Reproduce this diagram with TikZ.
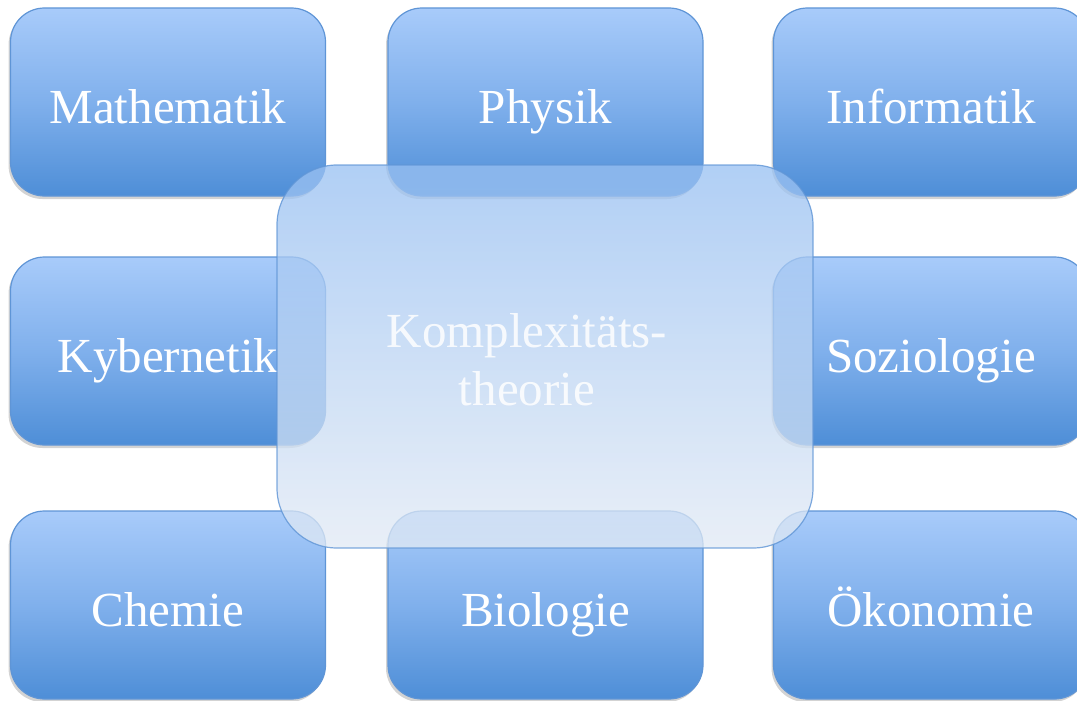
\documentclass[tikz,border=0pt]{standalone}
\usepackage{fontspec}
\setmainfont{Liberation Serif}
\usetikzlibrary{shadows}
\definecolor{boxtop}{HTML}{A8CBFA}
\definecolor{boxmid}{HTML}{80B0EC}
\definecolor{boxbottom}{HTML}{4E8ED7}
\definecolor{boxline}{HTML}{5F95D6}
\definecolor{glasstop}{HTML}{98C0F2}
\definecolor{glassbottom}{HTML}{E2EAF4}
\tikzset{
  fach/.style={draw=boxline, line width=1.2pt, rounded corners=34pt,
    minimum width=315pt, minimum height=188pt,
    top color=boxtop, bottom color=boxbottom, middle color=boxmid,
    text=white, font=\fontsize{49}{58}\selectfont, text height=42pt, text depth=0pt,
    drop shadow={shadow xshift=-2pt, shadow yshift=-3pt, opacity=0.35}},
  glas/.style={draw=boxline, draw opacity=0.8, line width=1.2pt, rounded corners=60pt,
    minimum width=536pt, minimum height=383pt,
    top color=glasstop, bottom color=glassbottom, fill opacity=0.76},
  glastext/.style={text=white, text opacity=0.85, align=center,
    font=\fontsize{49}{58}\selectfont}
}
\begin{document}
\begin{tikzpicture}[x=1pt, y=-1pt]
    \useasboundingbox (0,0) rectangle (1077,701);
    \node [fach] (mathe) at (168,102) {Mathematik};
    \node [fach] (physik) at (545.5,102) {Physik};
    \node [fach] (info) at (931,102) {Informatik};
    \node [fach] (kyber) at (168,351) {Kybernetik};
    \node [fach] (sozio) at (931,351) {Soziologie};
    \node [fach] (chemie) at (168,605) {Chemie};
    \node [fach] (bio) at (545.5,605) {Biologie};
    \node [fach] (oeko) at (931,605) {Ökonomie};
    \node [glas] (komplex) at (545,356.5) {};
    \node [glastext] (komplextext) at (527,360) {Komplexitäts-\\theorie};
  \end{tikzpicture}
\end{document}
